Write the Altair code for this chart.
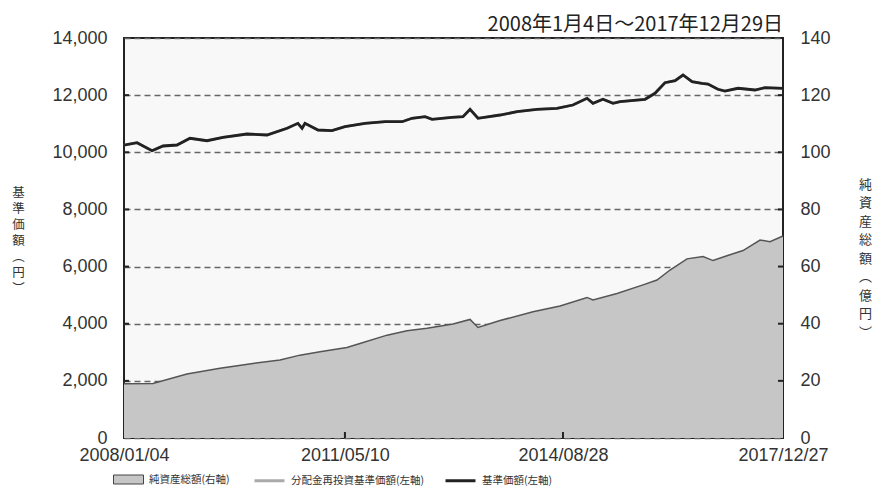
import altair as alt
import pandas as pd

# --- data ---
nav_dates = [
    "2008-01-04", "2008-03-16", "2008-06-07", "2008-08-07", "2008-10-23",
    "2009-01-03", "2009-04-07", "2009-07-05", "2009-11-14", "2010-03-05",
    "2010-06-24", "2010-08-23", "2010-09-15", "2010-10-01", "2010-12-12",
    "2011-02-27", "2011-05-10", "2011-08-29", "2011-12-18", "2012-03-21",
    "2012-05-15", "2012-07-26", "2012-09-03", "2012-12-22", "2013-02-21",
    "2013-04-01", "2013-05-15", "2013-09-14", "2013-12-17", "2014-04-06",
    "2014-07-26", "2014-10-22", "2015-01-08", "2015-02-10", "2015-04-06",
    "2015-06-01", "2015-07-09", "2015-11-25", "2016-01-19", "2016-03-14",
    "2016-05-09", "2016-06-22", "2016-08-11", "2016-10-05", "2016-11-07",
    "2017-01-01", "2017-02-09", "2017-04-22", "2017-07-25", "2017-09-18",
    "2017-12-27",
]
nav_values = [
    10250, 10335, 10055, 10220, 10255,
    10490, 10405, 10525, 10640, 10605,
    10840, 11013, 10840, 11013, 10780,
    10757, 10897, 11013, 11070, 11070,
    11190, 11247, 11155, 11225, 11247,
    11505, 11190, 11305, 11420, 11505,
    11540, 11655, 11890, 11715, 11855,
    11715, 11770, 11855, 12065, 12435,
    12505, 12705, 12470, 12410, 12390,
    12205, 12145, 12240, 12180, 12260,
    12240,
]
# no distributions paid: reinvested NAV equals NAV
reinvest_values = list(nav_values)

aum_dates = [
    "2008-01-04", "2008-06-12", "2008-12-17", "2009-06-18", "2009-12-17",
    "2010-05-16", "2010-09-03", "2010-12-23", "2011-05-21", "2011-08-01",
    "2011-12-29", "2012-04-17", "2012-08-06", "2012-12-28", "2013-04-01",
    "2013-05-15", "2013-09-14", "2014-03-15", "2014-08-12", "2015-01-08",
    "2015-02-10", "2015-06-23", "2015-11-14", "2016-01-30", "2016-04-11",
    "2016-07-14", "2016-10-11", "2016-12-05", "2017-02-20", "2017-05-20",
    "2017-08-22", "2017-10-16", "2017-12-27",
]
aum_values = [
    19.0, 19.1, 22.4, 24.4, 26.1,
    27.3, 29.0, 30.2, 31.7, 33.1,
    36.0, 37.5, 38.4, 39.9, 41.5,
    38.7, 41.1, 44.2, 46.2, 49.2,
    48.3, 50.6, 53.6, 55.3, 58.8,
    62.7, 63.5, 62.1, 63.8, 65.6,
    69.3, 68.7, 70.7,
]

s_aum = "純資産総額(右軸)"
s_re = "分配金再投資基準価額(左軸)"
s_nav = "基準価額(左軸)"
x_ticks = ["2008-01-04", "2011-05-10", "2014-08-28", "2017-12-27"]
left_ticks = [0, 2000, 4000, 6000, 8000, 10000, 12000, 14000]
right_ticks = [0, 20, 40, 60, 80, 100, 120, 140]
title_text = "2008年1月4日～2017年12月29日"

# --- tables ---
df_aum = pd.DataFrame({"date": aum_dates, "value": aum_values, "series": s_aum})
df_re = pd.DataFrame({"date": nav_dates, "value": reinvest_values, "series": s_re})
df_nav = pd.DataFrame({"date": nav_dates, "value": nav_values, "series": s_nav})
df_lt = pd.DataFrame({"value": left_ticks[1:-1]})
df_rt = pd.DataFrame({"value": right_ticks[1:-1]})
df_xt = pd.DataFrame({"date": x_ticks[1:-1]})

LAB_FONT = "Liberation Sans"
CJK = "Noto Sans CJK JP"

def dt(s):
    y, m, d = (int(p) for p in s.split("-"))
    return alt.DateTime(year=y, month=m, date=d, utc=True)

x_enc = alt.X(
    "date:T",
    scale=alt.Scale(type="utc", domain=[dt(x_ticks[0]), dt(x_ticks[-1])]),
    axis=alt.Axis(
        values=[dt(v) for v in x_ticks],
        labelExpr="utcFormat(datum.value, '%Y/%m/%d')",
        title=None, grid=False, domain=False, ticks=False,
        labelFlush=False, labelOverlap=False, labelPadding=8,
        labelFont=LAB_FONT, labelFontSize=18, labelColor="#333",
    ),
)

right_axis = alt.Axis(
    orient="right", values=right_ticks, format=",.0f", grid=False, domain=False,
    ticks=False, labelPadding=17, labelFont=LAB_FONT, labelFontSize=18,
    labelColor="#333",
    title=list("純資産総額︵億円︶"), titleAngle=0, titleX=82, titleY=146,
    titleAlign="center", titleBaseline="middle", titleLineHeight=18.5,
    titleFont=CJK, titleFontSize=13, titleFontWeight="normal", titleColor="#333",
)
left_axis = alt.Axis(
    orient="left", values=left_ticks, format=",.0f", grid=True,
    gridDash=[6, 4], gridColor="#666", gridWidth=1.5, domain=False,
    ticks=False, labelPadding=17, labelFont=LAB_FONT, labelFontSize=18,
    labelColor="#333",
    title=list("基準価額︵円︶"), titleAngle=0, titleX=-106, titleY=154,
    titleAlign="center", titleBaseline="middle", titleLineHeight=16,
    titleFont=CJK, titleFontSize=12.5, titleFontWeight="normal", titleColor="#333",
)

y_right = alt.Y("value:Q", scale=alt.Scale(domain=[0, 140], nice=False), axis=right_axis)
y_left = alt.Y("value:Q", scale=alt.Scale(domain=[0, 14000], nice=False), axis=left_axis)

area = alt.Chart(df_aum).mark_area(opacity=1).encode(
    x=x_enc,
    y=y_right,
    fill=alt.Fill(
        "series:N",
        scale=alt.Scale(domain=[s_aum], range=["#c6c6c6"]),
        legend=alt.Legend(
            orient="none", legendX=-11, legendY=426, title=None,
            direction="horizontal", padding=0,
            symbolType="M-1,-0.3H1V0.3H-1Z", symbolSize=900,
            symbolStrokeColor="#444", symbolStrokeWidth=1, symbolOpacity=1,
            labelFont=CJK, labelFontSize=10.5, labelColor="#333", labelOffset=5,
        ),
    ),
)
area_edge = alt.Chart(df_aum).mark_line(color="#555", strokeWidth=1.5).encode(
    x=x_enc, y=y_right
)
right_tick_marks = alt.Chart(df_rt).mark_rule(color="#222", strokeWidth=2).encode(
    x=alt.value(654), x2=alt.value(659), y=y_right
)

stroke_scale = alt.Scale(domain=[s_re, s_nav], range=["#aaaaaa", "#222222"])
stroke_legend = alt.Legend(
    orient="none", legendX=129, legendY=426, title=None,
    direction="horizontal", padding=0, columnPadding=14,
    symbolType="stroke", symbolSize=900, symbolStrokeWidth=3,
    labelFont=CJK, labelFontSize=10.5, labelColor="#333", labelOffset=5,
)
re_line = alt.Chart(df_re).mark_line(strokeWidth=2.5).encode(
    x=x_enc, y=y_left,
    stroke=alt.Stroke("series:N", scale=stroke_scale, legend=stroke_legend),
)
nav_line = alt.Chart(df_nav).mark_line(strokeWidth=2.8).encode(
    x=x_enc, y=y_left,
    stroke=alt.Stroke("series:N", scale=stroke_scale, legend=stroke_legend),
)
left_tick_marks = alt.Chart(df_lt).mark_rule(color="#222", strokeWidth=2).encode(
    x=alt.value(0), x2=alt.value(5), y=y_left
)
x_tick_marks = alt.Chart(df_xt).mark_rule(color="#222", strokeWidth=2).encode(
    x=x_enc, y=alt.value(394), y2=alt.value(400)
)

right_group = alt.layer(area, area_edge, right_tick_marks)
left_group = alt.layer(re_line, nav_line, left_tick_marks, x_tick_marks)

chart = (
    alt.layer(right_group, left_group)
    .resolve_scale(y="independent")
    .properties(
        width=659,
        height=400,
        autosize=alt.AutoSizeParams(type="none"),
        padding={"left": 116, "top": 30, "right": 90, "bottom": 49},
        title=alt.TitleParams(
            text=title_text, anchor="end", fontSize=20, font=CJK, frame="group",
            fontWeight="normal", color="#222", offset=-6,
        ),
        background="white",
    )
    .configure_view(fill="#f8f8f8", stroke="#222", strokeWidth=2)
)

chart.save("out.html", embed_options={"renderer": "svg", "actions": False})
